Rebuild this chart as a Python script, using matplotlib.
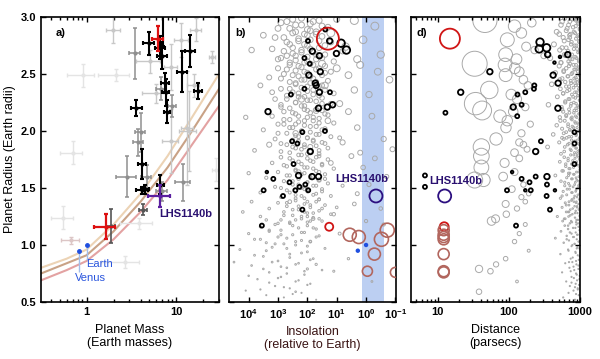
import numpy as np
import matplotlib.pyplot as plt

plt.rcParams['font.family'] = ['Liberation Sans', 'DejaVu Sans']
plt.rcParams['font.weight'] = 'bold'
plt.rcParams['mathtext.fontset'] = 'custom'
plt.rcParams['mathtext.rm'] = 'Liberation Sans'
plt.rcParams['mathtext.bf'] = 'Liberation Sans:bold'

# ---------------- panel a: mass-radius ----------------
black_mass = [4.92, 6.6, 7.0, 7.55, 7.6, 7.94, 11.7, 14.4, 17.4, 3.6, 4.19, 4.2, 4.5, 6.64, 7.2]
black_rad = [2.77, 2.73, 2.66, 2.42, 2.34, 2.17, 2.52, 2.70, 2.35, 2.20, 1.71, 1.48, 1.49, 1.53, 3.05]
black_merr = [0.7, 0.8, 0.9, 0.8, 0.7, 0.6, 1.5, 2.0, 1.8, 0.5, 0.4, 0.6, 0.5, 0.6, 0.6]
black_rerr = [0.10, 0.10, 0.12, 0.09, 0.12, 0.10, 0.18, 0.14, 0.07, 0.07, 0.13, 0.03, 0.04, 0.08, 0.30]

dark_mass = [4.26, 1.86]
dark_rad = [1.31, 1.17]
dark_merr = [0.4, 0.2]
dark_rerr = [0.05, 0.15]

mid_mass = [3.44, 4.0, 3.78, 2.85, 4.67, 6.97, 9.0, 11.9, 6.8]
mid_rad = [2.68, 1.99, 1.90, 1.60, 1.60, 1.47, 2.22, 1.55, 2.37]
mid_merr = [0.5, 0.5, 0.5, 0.7, 0.6, 1.0, 1.0, 2.2, 0.9]
mid_rerr = [0.22, 0.17, 0.12, 0.18, 0.10, 0.08, 0.10, 0.16, 0.10]

light_mass = [1.98, 16.6, 5.05, 11.4, 8.65, 13.8, 15.6, 5.9, 8.8, 13.3, 25.0]
light_rad = [2.89, 2.89, 2.61, 2.80, 1.91, 2.00, 2.40, 2.33, 2.56, 2.03, 2.65]
light_merr = [0.35, 2.5, 1.5, 2.0, 1.8, 3.0, 2.5, 1.8, 1.5, 2.0, 2.0]
light_rerr = [0.12, 0.10, 0.10, 0.15, 0.28, 0.35, 0.10, 0.08, 0.20, 0.50, 0.05]

faint_mass = [2.15, 0.91, 0.70, 0.55, 2.66, 27.8, 3.84]
faint_rad = [2.49, 2.49, 1.81, 1.24, 0.85, 1.66, 1.19]
faint_merr = [0.8, 0.3, 0.2, 0.15, 1.2, 3.0, 1.5]
faint_rerr = [0.05, 0.10, 0.10, 0.10, 0.05, 0.10, 0.05]

red_mass = [6.26, 1.65]
red_rad = [2.81, 1.16]
red_merr = [0.9, 0.45]
red_rerr = [0.11, 0.11]

lhs_mass, lhs_rad, lhs_merr, lhs_rerr = 6.65, 1.43, 1.82, 0.10
earth_venus_mass = [1.0, 0.815]
earth_venus_rad = [1.0, 0.95]

curve_mass = [0.31, 0.6, 1, 2, 4, 8, 15, 30]
curve_tan = [0.80, 0.88, 0.96, 1.18, 1.45, 1.78, 2.12, 2.50]
curve_brown = [0.75, 0.84, 0.91, 1.12, 1.38, 1.68, 2.00, 2.37]
curve_pink = [0.69, 0.78, 0.86, 1.05, 1.29, 1.57, 1.88, 2.22]

# ---------------- panels b, d: candidate planets ----------------
# radius (Earth radii), log10 insolation, distance (pc)
grey_table = """
2.99 2.2 610  2.97 1.6 880  2.96 2.7 720  2.94 1.9 950  2.93 2.4 540  2.91 1.3 800
2.90 3.0 660  2.89 2.0 990  2.87 1.7 470  2.86 2.5 850  2.85 2.1 730  2.83 1.5 920
2.82 2.8 580  2.80 1.9 690  2.79 2.3 970  2.78 1.2 760  2.76 2.6 430  2.75 2.0 890
2.73 1.6 640  2.72 3.2 820  2.71 2.2 520  2.69 1.8 940  2.68 2.5 700  2.67 1.4 600
2.65 2.0 860  2.64 2.9 380  2.63 1.7 780  2.62 2.4 960  2.61 1.1 690  2.60 2.1 540
2.98 1.0 900  2.84 3.5 710  2.70 0.8 980  2.66 2.7 310
2.97 0.4 46   2.92 -0.3 120 2.86 1.2 150  2.80 0.1 95   2.74 0.7 175  2.67 -0.5 90
2.63 0.3 128  2.59 1.5 33   2.95 -1.1 210 2.71 3.9 230
2.59 1.9 720  2.58 2.6 880  2.57 1.4 510  2.56 2.2 960  2.55 3.0 640  2.54 1.7 830
2.53 2.4 590  2.52 1.2 930  2.51 2.0 450  2.50 2.8 760  2.49 1.5 990  2.48 2.3 680
2.47 3.3 870  2.46 1.8 560  2.45 2.1 910  2.44 1.3 740  2.43 2.6 620  2.42 1.9 850
2.41 2.4 400  2.40 3.6 950  2.39 1.6 700  2.38 2.2 810  2.37 2.9 530  2.36 1.4 980
2.35 2.0 660  2.34 2.5 900  2.33 1.1 580  2.32 1.8 770  2.31 2.7 940  2.30 2.3 480
2.29 1.5 860  2.28 3.1 710  2.27 2.0 990  2.26 1.7 620  2.25 2.4 820  2.24 1.2 750
2.23 2.9 360  2.22 2.1 930  2.21 1.6 550  2.20 2.6 880
2.58 0.2 88   2.55 1.0 121  2.52 -0.4 140 2.49 0.6 90   2.45 -0.8 160 2.40 1.4 185
2.36 0.4 53   2.32 -0.1 108 2.28 2.2 130  2.24 0.9 34   2.21 -1.2 170 2.18 1.7 42
2.19 2.1 700  2.18 1.5 900  2.17 2.8 580  2.16 1.9 820  2.15 2.4 960  2.14 1.3 640
2.13 3.2 870  2.12 2.0 520  2.11 1.6 750  2.10 2.6 990  2.09 1.8 610  2.08 2.3 850
2.07 1.1 930  2.06 3.0 680  2.05 2.1 470  2.04 1.7 780  2.03 2.5 910  2.02 1.4 560
2.01 3.5 720  2.00 2.2 950  1.99 1.9 640  1.98 2.7 830  1.97 1.6 420  1.96 2.4 880
1.95 1.2 700  1.94 2.0 980  1.93 3.1 590  1.92 1.8 760  1.91 2.3 860  1.90 1.5 510
1.89 2.9 940  1.88 2.1 670  1.87 1.7 800  1.86 2.5 350  1.85 1.3 890  1.84 2.2 730
1.83 3.8 970  1.82 1.9 600  1.81 2.6 840  1.80 1.6 920  2.12 4.1 770  1.94 0.9 560
2.17 0.6 115  2.13 -0.2 75  2.09 1.3 95   2.03 0.3 91   1.98 2.4 150  1.93 -0.6 66
1.90 0.8 140  1.86 1.9 41   1.84 -0.9 180 1.81 0.2 120  2.06 2.8 200  1.88 3.3 160
1.79 2.3 740  1.78 1.6 910  1.77 2.9 600  1.76 2.0 850  1.75 1.3 980  1.74 2.5 680
1.73 1.8 520  1.72 3.2 870  1.71 2.2 760  1.70 1.5 940  1.69 2.7 630  1.68 2.0 810
1.67 1.1 700  1.66 2.4 990  1.65 1.7 560  1.64 3.0 890  1.63 2.1 720  1.62 1.4 830
1.61 2.6 450  1.60 1.9 960  1.59 3.4 650  1.58 2.3 780  1.57 1.6 900  1.56 2.8 540
1.55 2.0 860  1.54 1.3 690  1.53 2.5 970  1.52 1.8 610  1.51 3.1 800  1.50 2.2 930
1.49 1.5 710  1.48 2.7 880  1.47 2.0 580  1.46 3.6 760  1.45 1.7 990  1.44 2.4 650
1.43 1.2 840  1.42 2.9 910  1.41 2.1 530  1.40 1.6 770  1.63 4.0 690  1.52 0.8 950
1.78 0.5 41   1.76 -0.3 140 1.72 1.2 87   1.68 0.1 41   1.64 2.3 120  1.60 -0.7 83
1.57 0.7 44   1.57 1.6 33   1.53 -0.1 160 1.49 2.0 110  1.45 0.3 190  1.42 -1.1 150
1.39 2.4 760  1.38 1.7 890  1.37 3.0 620  1.36 2.1 950  1.35 1.4 700  1.34 2.7 840
1.33 1.9 560  1.32 3.3 980  1.31 2.3 730  1.30 1.6 870  1.29 2.8 640  1.28 2.0 920
1.27 1.2 780  1.26 2.5 990  1.25 3.6 690  1.24 1.8 850  1.23 2.2 600  1.22 2.9 940
1.21 1.5 750  1.20 2.6 880  1.38 3.9 820  1.33 1.0 910  1.29 4.2 700  1.25 2.0 480
1.22 3.4 930  1.21 1.9 570
1.36 0.4 90   1.32 -0.5 130 1.27 1.1 92   1.23 1.8 65   1.21 0.0 57   1.38 2.6 170
1.19 2.6 720  1.18 3.1 890  1.17 2.0 610  1.16 3.6 950  1.15 2.3 800  1.14 1.7 680
1.13 2.9 990  1.12 3.3 540  1.11 2.1 870  1.10 4.0 760  1.09 2.5 930  1.08 1.6 650
1.07 3.0 820  1.06 2.7 450  1.05 3.8 900  1.04 2.2 700  1.03 1.9 970  1.02 3.4 590
1.01 2.8 840  1.00 2.4 780  0.98 3.2 920  0.96 4.3 680  0.94 2.0 860  0.92 2.6 530
0.90 3.5 990  0.88 1.8 740  0.86 3.0 880  0.84 2.3 620  0.82 3.9 950  0.80 2.7 710
0.78 1.5 830  0.76 3.3 560  0.74 2.1 900  0.72 2.9 760  0.70 3.7 980  0.68 2.4 640
0.66 1.9 870  0.64 3.1 720  0.62 2.6 930  0.60 4.1 810  0.58 2.2 690  0.56 3.4 960
0.54 2.8 580  0.52 1.7 850  0.97 1.4 900  0.85 4.5 780
1.18 -0.6 170 1.10 0.9 140  1.03 1.9 120  0.95 -1.2 190 0.88 0.6 90   0.83 1.7 66
0.79 2.0 38   0.77 1.1 55   0.68 -0.2 130 0.59 2.4 38
"""
# more of the dense core of the candidate cloud
core_table = """
2.98 2.5 780  2.96 1.8 560  2.95 2.9 930  2.93 2.2 690  2.92 1.5 870  2.90 2.6 990
2.88 1.9 640  2.87 2.4 820  2.85 1.7 510  2.84 2.0 950  2.82 3.1 720  2.81 2.3 880
2.79 1.6 600  2.78 2.7 970  2.76 2.1 750  2.75 1.4 840  2.73 2.5 560  2.72 1.9 910
2.70 2.8 680  2.69 2.2 990  2.67 1.7 770  2.66 2.4 620  2.64 1.5 890  2.63 3.0 730
2.61 2.0 960  2.60 2.6 540  2.58 1.8 810  2.57 2.3 700  2.55 1.6 940  2.54 2.7 860
2.52 2.1 590  2.51 1.4 780  2.49 2.5 990  2.48 1.9 670  2.46 2.9 830  2.45 2.2 520
2.43 1.7 920  2.42 2.4 750  2.40 1.5 870  2.39 2.0 640  2.37 2.6 960  2.36 1.8 710
2.34 3.2 850  2.33 2.3 580  2.31 1.6 930  2.30 2.1 800  2.28 2.7 690  2.27 1.9 980
2.25 2.4 620  2.24 1.5 880  2.22 2.2 740  2.21 2.9 950  2.19 1.7 560  2.18 2.0 830
2.16 2.5 710  2.15 1.4 990  2.13 2.3 640  2.12 1.8 900  2.10 2.8 770  2.09 2.1 530
2.07 1.6 860  2.06 2.4 940  2.04 1.9 680  2.03 2.6 810  2.01 1.5 720  2.00 2.2 970
1.98 3.0 590  1.97 1.7 890  1.95 2.3 760  1.94 2.0 650  1.92 2.5 920  1.91 1.8 840
1.89 1.4 700  1.88 2.7 980  1.86 2.1 610  1.85 2.4 870  1.83 1.6 750  1.82 2.9 930
1.80 2.0 540  1.79 2.2 820  1.77 1.7 960  1.76 2.6 680  1.74 1.9 790  1.73 2.3 900
1.71 1.5 630  1.70 2.8 860  1.68 2.1 990  1.67 1.8 720  1.65 2.4 580  1.64 1.6 940
1.62 2.2 810  1.61 2.7 690  1.59 1.9 880  1.58 1.4 760  1.56 2.5 950  1.55 2.0 610
1.53 2.3 840  1.52 1.7 720  1.50 2.9 990  1.49 2.1 660  1.47 1.5 870  1.46 2.6 780
1.44 1.8 930  1.43 2.2 560  1.41 2.4 820  1.40 1.6 970  1.38 2.0 700  1.37 2.7 880
1.35 1.9 640  1.34 2.3 910  1.32 1.5 790  1.31 2.5 960  1.29 2.1 680  1.28 1.8 850
1.26 2.8 730  1.25 2.2 990  1.23 1.6 620  1.22 2.4 890  1.20 2.0 770  1.19 3.0 940
1.17 2.5 680  1.15 1.8 860  1.13 3.3 990  1.11 2.2 720  1.09 2.9 910  1.07 1.7 800
1.05 3.6 650  1.03 2.4 950  1.01 3.1 840  0.99 2.0 760  0.97 2.7 980  0.95 3.4 690
0.93 2.2 870  0.91 3.8 930  0.89 2.6 790  0.87 1.9 960  0.85 3.2 700  0.83 2.4 890
0.81 2.9 810  0.79 3.5 950  0.77 2.1 740  0.75 2.7 880  0.73 4.0 990  0.71 3.0 820
0.69 2.3 910  0.67 3.3 760  0.65 2.0 970  0.63 2.8 850  0.61 3.6 930  0.57 2.5 880
"""
_g = np.array((grey_table + core_table).split(), dtype=float).reshape(-1, 3)
grey_rad, grey_logS, grey_dist = _g[:, 0], _g[:, 1], _g[:, 2]

# planets with measured masses: log10 insolation, radius, circle class
black_b_logS = [1.39, 1.24, 1.98, 0.85, 0.67, 1.83, 1.59, 1.01, 2.10, 1.92, 1.56, 1.95, 1.73, 1.70,
                2.10, 1.59, 1.23, 2.56, 3.34, 1.32, 1.14, 1.62, 1.40, 2.17, 2.52, 2.34, 1.90, 2.47,
                3.38, 3.16, 2.30, 1.84, 1.62, 2.61, 2.27, 2.07, 2.41, 1.97, 3.49, 2.83, 2.17, 3.55]
black_b_rad = [2.89, 2.79, 2.79, 2.77, 2.71, 2.70, 2.66, 2.68, 2.64, 2.59, 2.52, 2.49, 2.42, 2.40,
               2.37, 2.34, 2.34, 2.32, 2.17, 2.21, 2.23, 2.20, 2.00, 1.99, 1.91, 1.89, 1.82, 1.71,
               1.64, 1.58, 1.61, 1.60, 1.60, 1.55, 1.51, 1.53, 1.48, 1.48, 1.48, 1.43, 1.31, 1.17]
black_b_cls = [1, 2, 1, 3, 3, 2, 2, 2, 1, 1, 2, 2, 2, 2,
               1, 2, 1, 1, 2, 2, 2, 2, 1, 1, 1, 1, 2, 1,
               0, 1, 2, 2, 2, 1, 1, 1, 1, 1, 1, 1, 1, 1]

black_d_dist = [274, 267, 339, 351, 523, 672, 437, 54, 419, 492, 21, 228, 225, 170, 132, 115, 151,
                131, 489, 12.8, 835, 835, 282, 238, 835, 111, 151, 238, 343, 343, 195, 203, 170,
                94, 444, 339, 378, 126, 6.6, 6.6]
black_d_rad = [2.78, 2.72, 2.73, 2.67, 2.65, 2.67, 2.60, 2.52, 2.49, 2.42, 2.34, 2.40, 2.37, 2.34,
               2.32, 2.21, 2.23, 2.13, 2.20, 2.16, 1.99, 1.89, 1.91, 1.82, 1.71, 1.64, 1.58, 1.60,
               1.60, 1.53, 1.55, 1.48, 1.48, 1.48, 1.48, 1.43, 1.31, 1.17, 1.61, 1.51]
black_d_cls = [3, 3, 3, 2, 0, 2, 0, 2, 2, 2, 2, 1, 1, 1, 1, 2, 1, 1, 2, 1, 1, 1, 1, 2, 1, 0, 1, 1,
               2, 1, 1, 1, 0, 1, 0, 1, 1, 1, 1, 1]

# GJ 1214b, GJ 1132b
red_S = [20, 18]
red_dist = [14.8, 12.3]
# TRAPPIST-1 b..h
trap_S = [3.6, 1.77, 0.52, 0.90, 0.30, 0.19, 0.10]
trap_rad = [1.09, 1.07, 0.92, 0.77, 1.05, 1.13, 0.76]
trap_dist = 12.1
lhs_S, lhs_dist = 0.46, 12.5
earth_venus_S = [1.0, 1.91]
hz_band = (1.35, 0.25)

# ---------------- drawing ----------------
def s_px(d):
    return (np.asarray(d, dtype=float) * 0.72) ** 2

cls_px = np.array([2.6, 4.0, 5.5, 7.5])

fig = plt.figure(figsize=(6, 3.59), dpi=100)
H = 359.0
ax_a = fig.add_axes([41 / 600, 1 - 302 / H, 178 / 600, 285 / H])
ax_b = fig.add_axes([229 / 600, 1 - 302 / H, 167 / 600, 285 / H])
ax_d = fig.add_axes([411 / 600, 1 - 302 / H, 169 / 600, 285 / H])

for ax in (ax_a, ax_b, ax_d):
    ax.set_xscale('log')
    ax.set_ylim(0.5, 3.0)
    ax.set_yticks([0.5, 1.0, 1.5, 2.0, 2.5, 3.0])
    ax.tick_params(which='both', direction='in', top=True, right=True, labelsize=8, width=1)
    ax.tick_params(which='major', length=3.5)
    ax.tick_params(which='minor', length=2)
    for sp in ax.spines.values():
        sp.set_linewidth(1.2)

# panel a
ax_a.set_xlim(0.31, 30)
ax_a.plot(curve_mass, curve_tan, color='#ecd3b5', lw=1.5, zorder=1)
ax_a.plot(curve_mass, curve_brown, color='#c9a286', lw=1.5, zorder=1)
ax_a.plot(curve_mass, curve_pink, color='#e3a2a2', lw=1.5, zorder=1)

def ebar(m, r, me, re, col, lw=1.2, z=2):
    ax_a.errorbar(m, r, xerr=me, yerr=re, fmt='o', ms=2, color=col, ecolor=col,
                  elinewidth=lw, capsize=1.5, capthick=lw, zorder=z)

ebar(faint_mass, faint_rad, faint_merr, faint_rerr, '#e4e4e4', 1.0)
ebar(light_mass, light_rad, light_merr, light_rerr, '#c8c8c8', 1.0)
ebar(mid_mass, mid_rad, mid_merr, mid_rerr, '#8f8f8f', 1.1)
ebar(dark_mass, dark_rad, dark_merr, dark_rerr, '#555555', 1.2)
ax_a.errorbar(0.67, 1.04, xerr=0.15, yerr=0.03, fmt='o', ms=2, color='#dcc6c6',
              elinewidth=1.0, capsize=1.5, zorder=2)
ebar(black_mass, black_rad, black_merr, black_rerr, 'black', 1.5, 3)
ebar(red_mass, red_rad, red_merr, red_rerr, '#dd1111', 1.6, 4)
ebar(lhs_mass, lhs_rad, lhs_merr, lhs_rerr, '#5b1fa0', 1.6, 4)

ax_a.vlines(earth_venus_mass, [0.87, 0.76], [0.98, 0.93], color='#a3bde9', lw=1, zorder=3)
ax_a.plot(earth_venus_mass, earth_venus_rad, 'o', ms=2.5, color='#1f4fe0', zorder=4)
ax_a.text(1.0, 0.835, 'Earth', color='#2a55dd', fontsize=8, fontweight='normal', va='center')
ax_a.text(0.74, 0.71, 'Venus', color='#2a55dd', fontsize=8, fontweight='normal', va='center')
ax_a.text(6.5, 1.27, 'LHS1140b', color='#2a1070', fontsize=8, va='center')
ax_a.set_xticks([1, 10])
ax_a.set_xticklabels(['1', '10'])
ax_a.set_yticklabels(['0.5', '1.0', '1.5', '2.0', '2.5', '3.0'])
ax_a.set_xlabel('Planet Mass\n(Earth masses)', fontsize=9, labelpad=5, linespacing=1.1)
ax_a.set_ylabel('Planet Radius (Earth radii)', fontsize=9, labelpad=3)
ax_a.text(0.08, 0.945, 'a)', transform=ax_a.transAxes, fontsize=8, va='center')

# panel b
S = 10.0 ** grey_logS
near = grey_dist < 200
b_px = (1.0 + 2.0 * (grey_rad - 0.5)) * np.where(near, 1.35, 1.0)
ax_b.axvspan(hz_band[0], hz_band[1], color='#bccff2', lw=0, zorder=0)
ax_b.scatter(S, grey_rad, s=s_px(b_px), facecolors='none', edgecolors='#a9a9a9',
             linewidths=0.7, zorder=1)
ax_b.scatter(10.0 ** np.array(black_b_logS), black_b_rad, s=s_px(cls_px[black_b_cls]),
             facecolors='none', edgecolors='black', linewidths=1.3, zorder=3)
ax_b.scatter(red_S, red_rad, s=s_px([22, 8]), facecolors='none', edgecolors='#d01515',
             linewidths=1.3, zorder=4)
ax_b.scatter(trap_S, trap_rad, s=s_px([13, 13, 12, 10, 14, 14, 10]), facecolors='none',
             edgecolors='#b2665e', linewidths=1.2, zorder=4)
ax_b.scatter([lhs_S], [lhs_rad], s=s_px([13]), facecolors='none', edgecolors='#2c0f80',
             linewidths=1.3, zorder=4)
ax_b.scatter(earth_venus_S, earth_venus_rad, s=s_px([3, 3]), color='#1f4fe0', zorder=4)
ax_b.text(11.2, 1.58, 'LHS1140b', color='#2a1070', fontsize=8, va='center')
ax_b.set_xlim(10 ** 4.67, 10 ** -1.02)
ax_b.set_xticks([1e4, 1e3, 1e2, 1e1, 1e0, 1e-1])
ax_b.set_xticklabels([r'$\mathbf{10^{4}}$', r'$\mathbf{10^{3}}$', r'$\mathbf{10^{2}}$',
                      r'$\mathbf{10^{1}}$', r'$\mathbf{10^{0}}$', r'$\mathbf{10^{-1}}$'])
ax_b.set_yticklabels([])
ax_b.set_xlabel('Insolation\n(relative to Earth)', fontsize=9, labelpad=4, linespacing=1.1,
                color='#3a1414')
ax_b.text(0.035, 0.945, 'b)', transform=ax_b.transAxes, fontsize=8, va='center')

# panel d
d_px = np.clip(4.8 * grey_rad * (100.0 / grey_dist) ** 0.68, 1.2, 25)
ax_d.scatter(grey_dist, grey_rad, s=s_px(d_px), facecolors='none', edgecolors='#a9a9a9',
             linewidths=0.7, zorder=1)
ax_d.scatter(black_d_dist, black_d_rad, s=s_px(cls_px[black_d_cls]), facecolors='none',
             edgecolors='black', linewidths=1.3, zorder=3)
ax_d.scatter(red_dist, red_rad, s=s_px([20, 9]), facecolors='none', edgecolors='#d01515',
             linewidths=1.3, zorder=4)
ax_d.scatter([trap_dist] * len(trap_rad), trap_rad, s=s_px([11] * 7), facecolors='none',
             edgecolors='#b2665e', linewidths=1.2, zorder=4)
ax_d.scatter([lhs_dist], [lhs_rad], s=s_px([13]), facecolors='none', edgecolors='#2c0f80',
             linewidths=1.3, zorder=4)
ax_d.text(7.7, 1.56, 'LHS1140b', color='#2a1070', fontsize=8, va='center')
ax_d.set_xlim(4.2, 1000)
ax_d.set_xticks([10, 100, 1000])
ax_d.set_xticklabels(['10', '100', '1000'])
ax_d.set_yticklabels([])
ax_d.set_xlabel('Distance\n(parsecs)', fontsize=9, labelpad=5, linespacing=1.1)
ax_d.text(0.035, 0.945, 'd)', transform=ax_d.transAxes, fontsize=8, va='center')

fig.savefig('out.png', dpi=100, facecolor='white')
